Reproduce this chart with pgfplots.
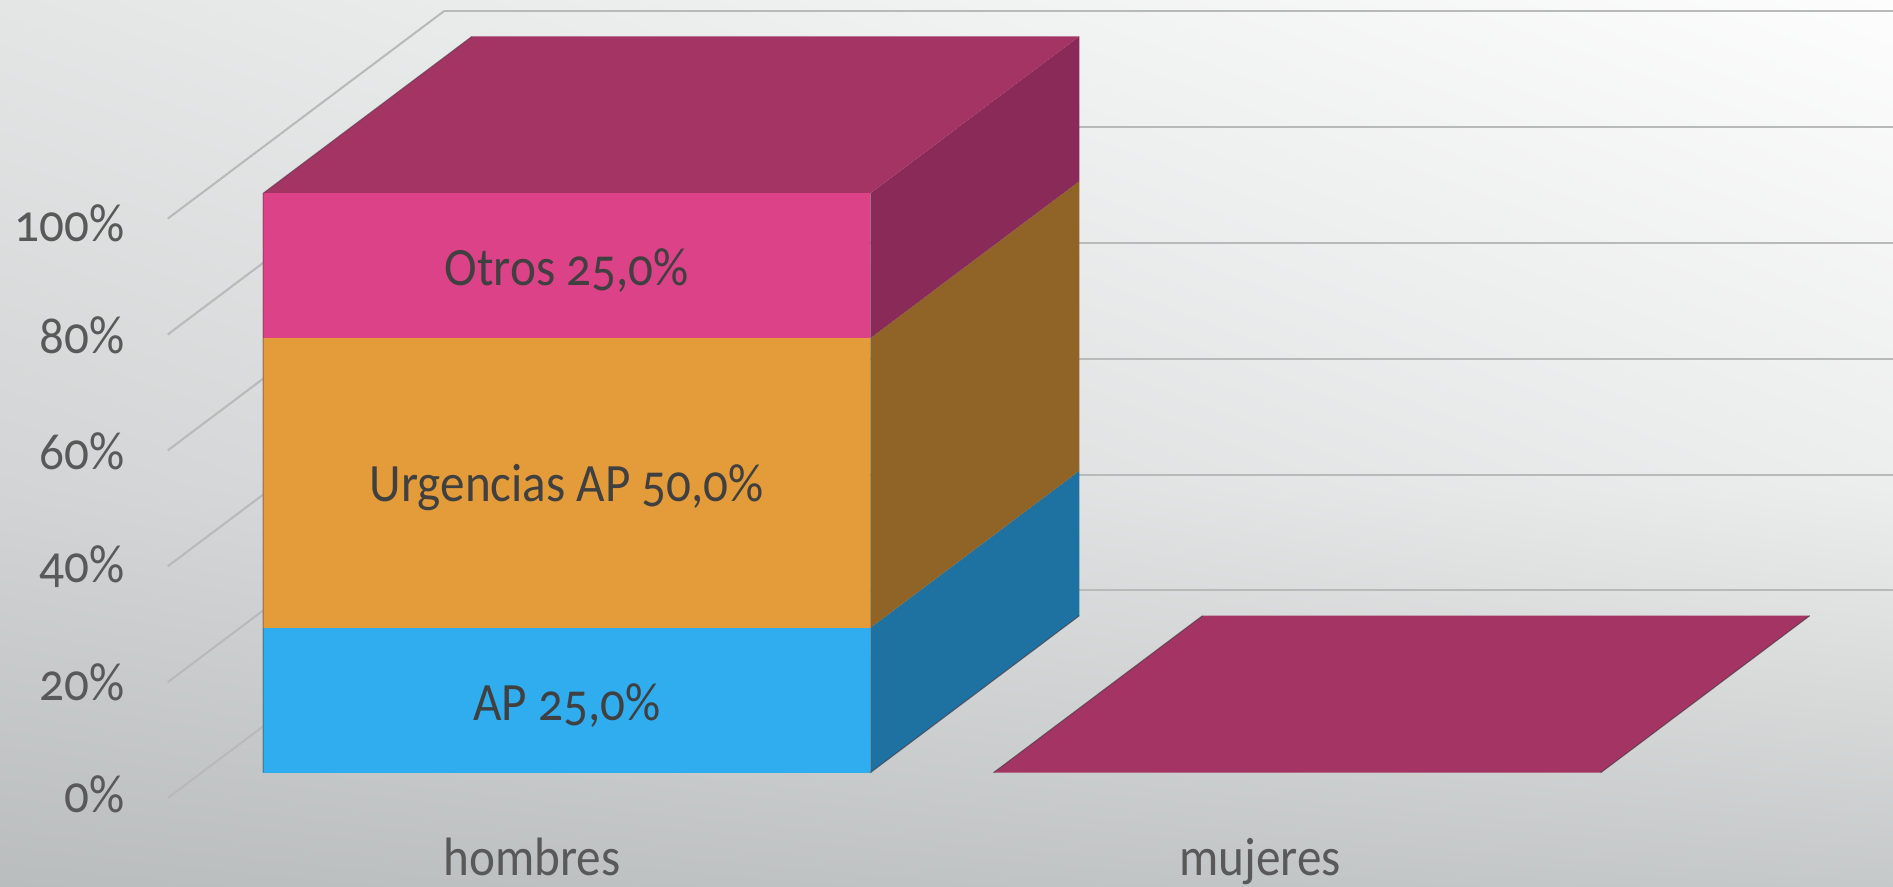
\documentclass[border=0pt]{standalone}
\usepackage{fontspec}
\setmainfont[Numbers=OldStyle,FakeStretch=0.91]{Carlito}
\usepackage{pgfplots}
\pgfplotsset{compat=1.18}
\usetikzlibrary{shadings}
\definecolor{pinkF}{HTML}{DB4288}
\definecolor{pinkS}{HTML}{8A2A59}
\definecolor{plumT}{HTML}{A33463}
\definecolor{oranF}{HTML}{E49C3B}
\definecolor{oranS}{HTML}{8F6426}
\definecolor{blueF}{HTML}{2FADEF}
\definecolor{blueS}{HTML}{1E72A2}
\definecolor{txtA}{HTML}{595959}
\definecolor{txtB}{HTML}{404040}
\definecolor{gridc}{HTML}{B8BABA}
\definecolor{bgTL}{HTML}{E4E6E6}
\definecolor{bgTR}{HTML}{FDFDFD}
\definecolor{bgML}{HTML}{D2D4D5}
\definecolor{bgMR}{HTML}{ECEDED}
\definecolor{bgBL}{HTML}{BABDBE}
\definecolor{bgBR}{HTML}{C6C9C9}
\definecolor{edgec}{HTML}{4A3A44}
\newcommand{\lblfont}{\fontsize{27}{27}\selectfont}
\begin{document}
\begin{tikzpicture}
\path[use as bounding box] (0pt,0pt) rectangle (946.5pt,443.5pt);
\clip (0pt,0pt) rectangle (946.5pt,443.5pt);
\shade[upper left=bgML, upper right=bgMR, lower left=bgBL, lower right=bgBR] (0pt,0pt) rectangle (946.5pt,200pt);
\shade[upper left=bgTL, upper right=bgTR, lower left=bgML, lower right=bgMR] (0pt,199.5pt) rectangle (946.5pt,443.5pt);
\begin{axis}[
  at={(83.9pt,44.5pt)}, anchor=origin,
  x={(365.2pt,0pt)}, y={(138.2pt,103.8pt)}, z={(0pt,2.897pt)},
  xmin=0, xmax=2, ymin=0, ymax=1, zmin=0, zmax=100,
  clip=false,
  axis line style={draw=none},
  major tick length=0pt,
  xtick={0.5,1.5}, xticklabels={hombres,mujeres},
  ytick=\empty,
  ztick={0,20,40,60,80,100},
  zticklabels={0\%,20\%,40\%,60\%,80\%,100\%},
  zmajorgrids=true,
  grid style={gridc, line width=1pt},
  tick label style={font=\lblfont, text=txtA},
  xticklabel style={xshift=6pt, yshift=-16.5pt},
  zticklabel style={xshift=-18pt, yshift=8pt},
]
% hombres: side faces, x = 0.9157, y from 0.122 to 0.878
\addplot3[fill=blueS, draw=none, mark=none] coordinates {(0.9157,0.122,0)(0.9157,0.878,0)(0.9157,0.878,25)(0.9157,0.122,25)} -- cycle;
\addplot3[fill=oranS, draw=none, mark=none] coordinates {(0.9157,0.122,25)(0.9157,0.878,25)(0.9157,0.878,75)(0.9157,0.122,75)} -- cycle;
\addplot3[fill=pinkS, draw=none, mark=none] coordinates {(0.9157,0.122,75)(0.9157,0.878,75)(0.9157,0.878,100)(0.9157,0.122,100)} -- cycle;
% hombres: top
\addplot3[fill=plumT, draw=none, mark=none] coordinates {(0.0843,0.122,100)(0.9157,0.122,100)(0.9157,0.878,100)(0.0843,0.878,100)} -- cycle;
% hombres: front faces
\addplot3[fill=blueF, draw=none, mark=none] coordinates {(0.0843,0.122,0)(0.9157,0.122,0)(0.9157,0.122,25)(0.0843,0.122,25)} -- cycle;
\addplot3[fill=oranF, draw=none, mark=none] coordinates {(0.0843,0.122,25)(0.9157,0.122,25)(0.9157,0.122,75)(0.0843,0.122,75)} -- cycle;
\addplot3[fill=pinkF, draw=none, mark=none] coordinates {(0.0843,0.122,75)(0.9157,0.122,75)(0.9157,0.122,100)(0.0843,0.122,100)} -- cycle;
% mujeres: empty column, only its top at 0
\addplot3[fill=plumT, draw=none, mark=none] coordinates {(1.0843,0.122,0)(1.9157,0.122,0)(1.9157,0.878,0)(1.0843,0.878,0)} -- cycle;
% thin dark edges
\addplot3[edgec, opacity=0.55, line width=0.5pt, mark=none] coordinates {(0.0843,0.122,0)(0.0843,0.122,100)(0.0843,0.878,100)};
\addplot3[edgec, opacity=0.7, line width=0.5pt, mark=none] coordinates {(0.9157,0.122,0)(0.9157,0.878,0)};
\addplot3[edgec, opacity=0.7, line width=0.5pt, mark=none] coordinates {(1.0843,0.122,0)(1.0843,0.878,0)};
\addplot3[edgec, opacity=0.7, line width=0.5pt, mark=none] coordinates {(1.9157,0.122,0)(1.9157,0.878,0)};
\node[font=\lblfont, text=txtB, yshift=-2.5pt] at (axis cs:0.5,0.122,12.5) {AP 25,0\%};
\node[font=\lblfont, text=txtB, yshift=-2.5pt] at (axis cs:0.5,0.122,50) {Urgencias AP 50,0\%};
\node[font=\lblfont, text=txtB, yshift=-2.5pt] at (axis cs:0.5,0.122,87.5) {Otros 25,0\%};
\end{axis}
\end{tikzpicture}
\end{document}
